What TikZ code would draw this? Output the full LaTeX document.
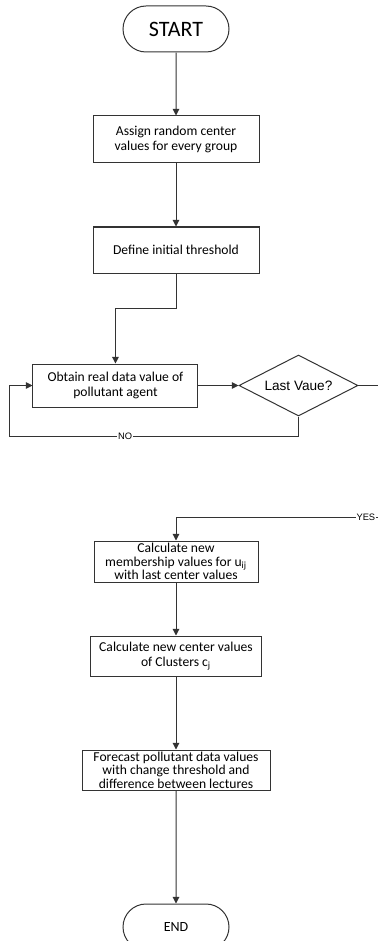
\documentclass[tikz,border=0pt]{standalone}
\usepackage{fontspec}
\setmainfont{Carlito}
\newfontfamily\arialfont{Liberation Sans}
\usetikzlibrary{shapes.geometric, shapes.misc, arrows.meta, positioning}

\begin{document}
\begin{tikzpicture}[
    line/.style={draw=black!80, line width=0.75pt},
    arr/.style={line, -{Triangle[length=5pt,width=5pt]}},
    term/.style={draw=black!80, line width=0.75pt, rounded rectangle, minimum width=79.5pt, minimum height=34.5pt, inner sep=0pt},
    proc/.style={draw=black!80, line width=0.75pt, rectangle, align=center, inner sep=1pt, font=\fontsize{10.2}{11.25}\selectfont},
    tight/.style={inner ysep=0pt, font=\fontsize{10.2}{10}\selectfont},
    decide/.style={draw=black!80, line width=0.75pt, diamond, minimum width=89.25pt, minimum height=45.75pt, inner sep=0pt, font=\arialfont\fontsize{10.2}{11}\selectfont},
    tag/.style={fill=white, inner sep=0.5pt, font=\arialfont\fontsize{7}{7}\selectfont}]
    \useasboundingbox (0,0) rectangle (283.5pt,-705.75pt);
    % Clustering workflow
    \node (start) [term, font=\fontsize{16.5}{18}\selectfont] at (132pt,-21.75pt) {START};
    \node (assign) [proc, minimum width=124.5pt, minimum height=35.25pt, below=47.25pt of start] {Assign random center\\values for every group};
    \node (define) [proc, minimum width=124.5pt, minimum height=34.5pt, below=47.25pt of assign] {Define initial threshold};
    \node (obtain) [proc, minimum width=123.75pt, minimum height=32.25pt, below=67.5pt of define, xshift=-45.4pt] {Obtain real data value of\\pollutant agent};
    \node (last) [decide, right=30pt of obtain] {\makebox[0pt]{Last Vaue?}};
    \node (member) [proc, tight, minimum width=123pt, minimum height=30.75pt, below=99.75pt of obtain, xshift=45.4pt] {Calculate new\\membership values for u\textsubscript{ij}\\with last center values};
    \node (center) [proc, minimum width=128.25pt, minimum height=30pt, below=39.75pt of member] {Calculate new center values\\of Clusters c\textsubscript{j}};
    \node (forecast) [proc, tight, minimum width=141pt, minimum height=30pt, below=54.75pt of center] {Forecast pollutant data values\\with change threshold and\\difference between lectures};
    \node (end) [term, font=\fontsize{10.5}{12}\selectfont, below=84.75pt of forecast] {END};
    \coordinate (yesout) at (283.5pt,0 |- last.east);
    \coordinate (yesin) at (283.5pt,-387.75pt);
    \draw[arr] (start) -- (assign);
    \draw[arr] (assign) -- (define);
    \draw[arr] (define.south) -- ++(0,-26.25pt) -| (obtain.north);
    \draw[arr] (obtain.east) -- (last.west);
    \draw[arr] (last.south) -- ++(0,-15pt) -| node[tag, pos=0.3] {NO} ([xshift=-17.25pt]obtain.west) -- (obtain.west);
    \draw[line] (last.east) -- (yesout);
    \draw[arr] (yesin) -| node[tag, pos=0.03] {YES} (member.north);
    \draw[arr] (member) -- (center);
    \draw[arr] (center) -- (forecast);
    \draw[arr] (forecast) -- (end);
\end{tikzpicture}
\end{document}
